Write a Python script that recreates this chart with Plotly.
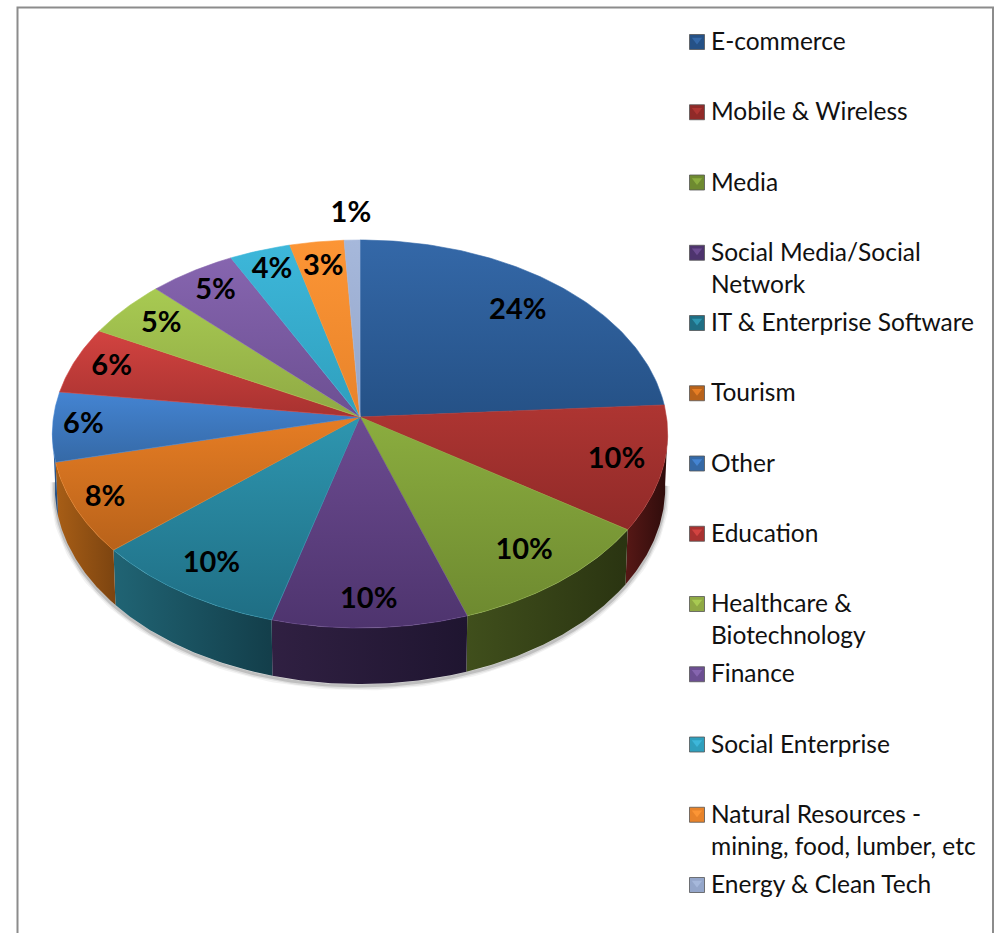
import numpy as np
import plotly.graph_objects as go

categories = ["E-commerce", "Mobile & Wireless", "Media", "Social Media/Social<br>Network",
              "IT & Enterprise Software", "Tourism", "Other", "Education",
              "Healthcare &<br>Biotechnology", "Finance", "Social Enterprise",
              "Natural Resources -<br>mining, food, lumber, etc", "Energy & Clean Tech"]
# slice sizes
shares = [24.0, 10.4, 10.4, 9.45, 9.45, 7.6, 5.8, 5.6, 4.8, 5.0, 3.5, 3.1, 0.9]
# percentages as printed on the chart
printed = [24, 10, 10, 10, 10, 8, 6, 6, 5, 5, 4, 3, 1]

top_light = ["#3468A8", "#AE3532", "#8BAD3F", "#6C4B91", "#2E96B0", "#E67D24", "#4484D2",
             "#D24340", "#A8CA52", "#8665AF", "#3DB7DA", "#FC9535", "#A6B8DB"]
top_dark = ["#255186", "#902A28", "#6E8A30", "#4E346E", "#1F6E84", "#B8621A", "#3569A6",
            "#A83230", "#8FA944", "#6C4F92", "#2F9FBD", "#E8832A", "#94A6CA"]
wall_light = ["#254C80", "#571816", "#404F1C", "#302042", "#206474", "#A85E16", "#2F5F99",
              "#6E1F1D", "#56692A", "#403058", "#1F6F88", "#A85E16", "#6A7A98"]
wall_dark = ["#1B3A62", "#2E0C0B", "#2A3411", "#1F1530", "#133E4A", "#7C4410", "#234B7A",
             "#4E1614", "#3E4C1E", "#2D2140", "#17566A", "#7C4410", "#56637C"]

CX, R, B, A, C = 360.0, 306.5, 417.0, -156.0, 0.0876


def project(t_deg, r=1.0):
    t = np.radians(t_deg)
    s, v = r * np.sin(t), r * np.cos(t)
    w = 1 + C * v
    return CX + R * s / w, (B + A * v) / w


def project_floor(t_deg):
    x, y = project(t_deg)
    v = np.cos(np.radians(t_deg))
    return CX + (x - CX) * 0.992, y + 53 - 3 * v


edges = np.concatenate([[0], np.cumsum(shares)]) / np.sum(shares) * 360
fig = go.Figure()

# soft shadow under the wall
arc = np.arange(94, 268, 1.0)
sx, sy = project_floor(arc)
for width, alpha in [(9, 0.05), (6, 0.08), (3, 0.14)]:
    fig.add_trace(go.Scatter(x=sx, y=sy + 2, mode="lines", hoverinfo="skip", showlegend=False,
                             line=dict(color=f"rgba(0,0,0,{alpha})", width=width)))

# side walls
for i in range(len(shares)):
    a0, a1 = max(edges[i], 94), min(edges[i + 1], 267)
    if a1 <= a0:
        continue
    t = np.linspace(a0, a1, 60)
    xt, yt = project(t)
    xb, yb = project_floor(t[::-1])
    cs = [[0, wall_light[i]], [1, wall_dark[i]]]
    fig.add_trace(go.Scatter(x=np.concatenate([xt, xb]), y=np.concatenate([yt, yb]),
                             mode="lines", fill="toself", hoverinfo="skip", showlegend=False,
                             line=dict(width=0, color=wall_dark[i]),
                             fillgradient=dict(type="horizontal", colorscale=cs)))

# top faces
for i, name in enumerate(categories):
    t = np.linspace(edges[i], edges[i + 1], 90)
    ax, ay = project(t)
    xs = np.concatenate([[CX], ax, [CX]])
    ys = np.concatenate([[B], ay, [B]])
    cs = [[0, top_dark[i]], [1, top_light[i]]]
    fig.add_trace(go.Scatter(x=xs, y=ys, mode="lines", fill="toself", showlegend=False,
                             name=name.replace("<br>", " "), hoverinfo="name",
                             line=dict(width=0.6, color=top_light[i]),
                             fillgradient=dict(type="vertical", colorscale=cs)))

# value labels
mids = (edges[:-1] + edges[1:]) / 2
radii = np.array([0.79, 0.85, 0.83, 0.88, 0.85, 0.90, 0.90, 0.87, 0.84, 0.85, 0.87, 0.84, 1.16])
lx, ly = project(mids, radii)
fig.add_trace(go.Scatter(x=lx, y=ly, mode="text", hoverinfo="skip", showlegend=False,
                         text=[f"{p}%" for p in printed],
                         textfont=dict(family="Lato", size=29, color="#000000", weight="bold")))

# legend column
row_y = 42 + 70.25 * np.arange(len(categories))
fig.add_trace(go.Scatter(x=[697] * len(categories), y=row_y, mode="markers", hoverinfo="skip",
                         showlegend=False,
                         marker=dict(symbol="square", size=15, color=top_dark,
                                     line=dict(width=0.8, color="#555555"))))
fig.add_trace(go.Scatter(x=[697] * len(categories), y=row_y - 2, mode="markers", hoverinfo="skip",
                         showlegend=False,
                         marker=dict(symbol="triangle-down", size=9, color=top_light)))
tx, ty, tt = [], [], []
for name, y0 in zip(categories, row_y):
    for j, line in enumerate(name.split("<br>")):
        tx.append(711)
        ty.append(y0 + 2 + 32 * j)
        tt.append(line)
fig.add_trace(go.Scatter(x=tx, y=ty, mode="text", text=tt, textposition="middle right",
                         hoverinfo="skip", showlegend=False,
                         textfont=dict(family="Lato", size=24.5, color="#111111")))

fig.update_layout(
    width=1003, height=933, margin=dict(l=0, r=0, t=0, b=0), autosize=False,
    paper_bgcolor="white", plot_bgcolor="white", showlegend=False,
    xaxis=dict(range=[0, 1003], visible=False, fixedrange=True),
    yaxis=dict(range=[933, 0], visible=False, fixedrange=True),
    shapes=[dict(type="rect", xref="x", yref="y", x0=17.5, y0=7.5, x1=993, y1=960,
                 line=dict(color="#8C8C8C", width=2), layer="below")],
)
fig.write_html("out.html", config=dict(displayModeBar=False),
               post_script="document.body.style.margin='0';document.body.style.overflow='hidden';")
